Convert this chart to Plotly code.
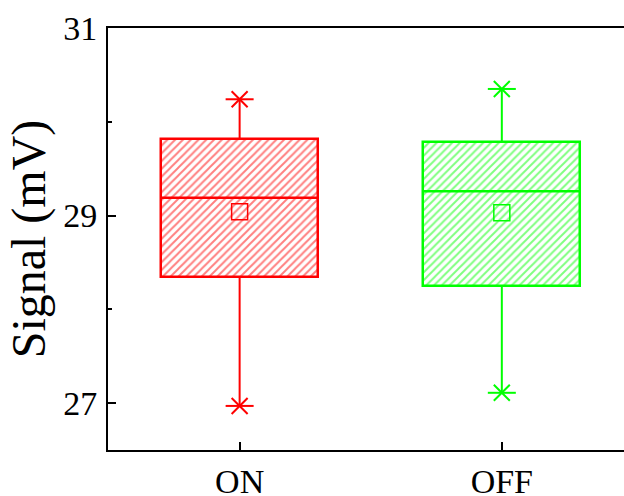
import plotly.graph_objects as go

# Summary statistics for each group (mV)
groups = ["ON", "OFF"]
q1 = [28.35, 28.25]
median = [29.19, 29.26]
q3 = [29.82, 29.78]
mean = [29.04, 29.03]
minimum = [26.97, 27.11]
maximum = [30.24, 30.35]
colors = ["#FF0000", "#00FF00"]

box_width = 0.6
positions = list(range(len(groups)))

fig = go.Figure()

for i, g in enumerate(groups):
    c = colors[i]
    x = positions[i]
    # hatched interquartile box
    fig.add_trace(go.Bar(
        x=[x], y=[q3[i] - q1[i]], base=[q1[i]], width=box_width,
        marker=dict(color="white", line=dict(color=c, width=2.5),
                    pattern=dict(shape="/", fgcolor=c, bgcolor="white",
                                 size=5.5, solidity=0.35)),
        showlegend=False, hoverinfo="skip",
    ))
    # whiskers from box edges to extremes
    fig.add_trace(go.Scatter(
        x=[x, x, None, x, x], y=[q3[i], maximum[i], None, q1[i], minimum[i]],
        mode="lines", line=dict(color=c, width=2), showlegend=False,
        hoverinfo="skip",
    ))
    # median line
    fig.add_trace(go.Scatter(
        x=[x - box_width / 2, x + box_width / 2], y=[median[i], median[i]],
        mode="lines", line=dict(color=c, width=2.5), showlegend=False,
        hoverinfo="skip",
    ))
    # mean marker
    fig.add_trace(go.Scatter(
        x=[x], y=[mean[i]], mode="markers",
        marker=dict(symbol="square-open", size=16, color=c,
                    line=dict(color=c, width=1.5)),
        showlegend=False,
    ))
    # min / max asterisks (horizontal bar + diagonal cross)
    for sym, sz in (("line-ew-open", 20), ("x-thin-open", 16)):
        fig.add_trace(go.Scatter(
            x=[x, x], y=[minimum[i], maximum[i]], mode="markers",
            marker=dict(symbol=sym, size=sz, color=c,
                        line=dict(color=c, width=2)),
            showlegend=False,
        ))

font_family = "Liberation Serif"

fig.update_layout(
    width=624, height=496,
    margin=dict(l=108, r=0, t=28, b=46, autoexpand=False),
    paper_bgcolor="white", plot_bgcolor="white",
    font=dict(family=font_family, color="black", size=34),
    bargap=0,
    xaxis=dict(
        range=[-0.502, 1.466], tickmode="array", tickvals=positions,
        ticktext=groups, ticks="inside", ticklen=8, tickwidth=1.5,
        tickcolor="black", showline=True, linecolor="black", linewidth=2,
        mirror=True, showgrid=False, zeroline=False,
        tickfont=dict(size=34), ticklabelstandoff=0,
    ),
    yaxis=dict(
        range=[26.5, 31], tick0=27, dtick=2, ticks="inside", ticklen=8,
        tickwidth=1.5, tickcolor="black", showline=True, linecolor="black",
        linewidth=2, mirror=False, showgrid=False, zeroline=False,
        tickfont=dict(size=34), ticklabelstandoff=2,
        minor=dict(tick0=27, dtick=1, ticks="inside", ticklen=4,
                   tickwidth=1.5, tickcolor="black", showgrid=False),
        title=dict(text="Signal (mV)", font=dict(size=48), standoff=2),
        automargin=False,
    ),
)

fig.write_html("out.html")
